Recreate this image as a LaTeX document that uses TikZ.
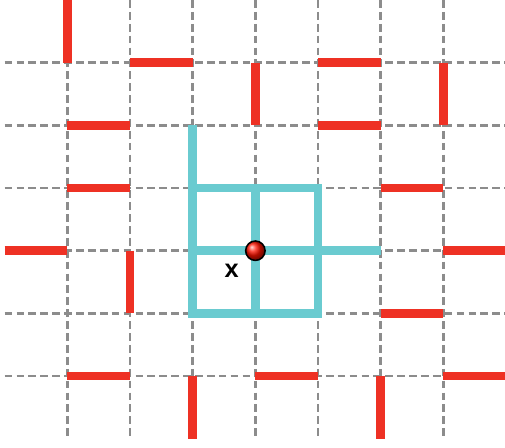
\documentclass[tikz,border=0pt]{standalone}
\usepackage{fontspec}
\setmainfont{Liberation Sans}
\definecolor{gridgray}{HTML}{8C8C8C}
\definecolor{wallred}{HTML}{EE3124}
\definecolor{pathcyan}{HTML}{6ACBD0}
\tikzset{
  gridline/.style={draw=gridgray, line width=1.15pt, dash pattern=on 3.5pt off 1.9pt},
  wall/.style={draw=wallred, line width=4pt},
  route/.style={draw=pathcyan, line width=4pt},
  agent/.style={circle, draw=black, line width=0.7pt, ball color=red!85!orange, minimum size=0.31cm, inner sep=0pt},
  marklabel/.style={font=\fontsize{11.5}{12}\selectfont\bfseries, inner sep=0pt}
}
\begin{document}
\begin{tikzpicture}
\useasboundingbox (-0.0745,-7.133) rectangle (7.983,0);
% grid
\foreach \j in {1,...,6} \draw[gridline] (0,-\j) -- (7.983,-\j);
\foreach \i in {1,...,7} \draw[gridline] (\i,0) -- (\i,-7);
% red walls
\draw[wall] (1,0) -- (1,-1);
\draw[wall] (2,-1) -- (3,-1);
\draw[wall] (4,-1) -- (4,-2);
\draw[wall] (1,-2) -- (2,-2);
\draw[wall] (1,-3) -- (2,-3);
\draw[wall] (5,-1) -- (6,-1);
\draw[wall] (7,-1) -- (7,-2);
\draw[wall] (5,-2) -- (6,-2);
\draw[wall] (6,-3) -- (7,-3);
\draw[wall] (0,-4) -- (1,-4);
\draw[wall] (2,-4) -- (2,-5);
\draw[wall] (1,-6) -- (2,-6);
\draw[wall] (3,-6) -- (3,-7);
\draw[wall] (7,-4) -- (7.983,-4);
\draw[wall] (6,-5) -- (7,-5);
\draw[wall] (4,-6) -- (5,-6);
\draw[wall] (6,-6) -- (6,-7);
\draw[wall] (7,-6) -- (7.983,-6);
% cyan route
\draw[route] (3,-3) rectangle (5,-5);
\draw[route] (3,-2) -- (3,-3);
\draw[route] (4,-3) -- (4,-5);
\draw[route] (3,-4) -- (6,-4);
% agent and label
\node[agent] (ball) at (4,-4) {};
\node[marklabel] (xlab) at (3.62,-4.32) {x};
\end{tikzpicture}
\end{document}
